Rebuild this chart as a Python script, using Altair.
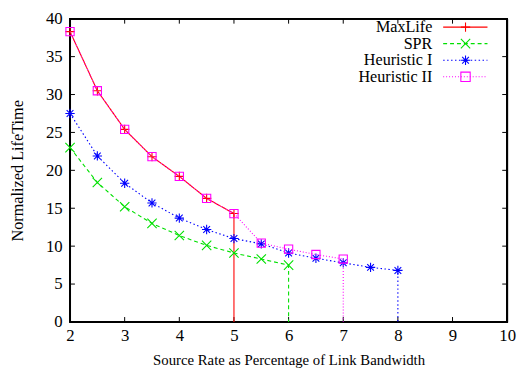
import altair as alt
import pandas as pd

# ---- data ----
series_names = ["MaxLife", "SPR", "Heuristic I", "Heuristic II"]
x_maxlife = [2, 2.5, 3, 3.5, 4, 4.5, 5]
y_maxlife = [38.3, 30.5, 25.4, 21.8, 19.2, 16.3, 14.3]
x_spr = [2, 2.5, 3, 3.5, 4, 4.5, 5, 5.5, 6]
y_spr = [23.0, 18.4, 15.2, 13.0, 11.4, 10.1, 9.1, 8.3, 7.5]
x_h1 = [2, 2.5, 3, 3.5, 4, 4.5, 5, 5.5, 6, 6.5, 7, 7.5, 8]
y_h1 = [27.5, 21.9, 18.3, 15.7, 13.7, 12.2, 11.0, 10.3, 9.1, 8.4, 7.8, 7.2, 6.8]
x_h2 = [2, 2.5, 3, 3.5, 4, 4.5, 5, 5.5, 6, 6.5, 7]
y_h2 = [38.3, 30.5, 25.4, 21.8, 19.2, 16.3, 14.3, 10.4, 9.6, 8.9, 8.3]
x_ticks = [2, 3, 4, 5, 6, 7, 8, 9, 10]
y_ticks = [0, 5, 10, 15, 20, 25, 30, 35, 40]

colors = ["#ff0000", "#00e000", "#0000ff", "#ff00ff"]
dashes = [[1, 0], [4, 3], [1.5, 2.5], [1, 2]]
shapes = [
    "M-1,0L1,0M0,-1L0,1",
    "M-1,-1L1,1M-1,1L1,-1",
    "M-1,0L1,0M0,-1L0,1M-0.72,-0.72L0.72,0.72M-0.72,0.72L0.72,-0.72",
    "M-1,-1L1,-1L1,1L-1,1Z",
]

W, H = 444, 308
FONT = "Liberation Serif"

xs = [x_maxlife, x_spr, x_h1, x_h2]
ys = [y_maxlife, y_spr, y_h1, y_h2]

xscale = alt.Scale(domain=[2, 10], nice=False, zero=False)
yscale = alt.Scale(domain=[0, 40], nice=False)
xaxis = alt.Axis(values=x_ticks, title="Source Rate as Percentage of Link Bandwidth",
                 titlePadding=9, labelPadding=6, titleFontSize=15, labelFlush=False,
                 labelOverlap=False, labelFont=FONT, titleFont=FONT, labelFontSize=17)
yaxis = alt.Axis(values=y_ticks, title="Normalized LifeTime",
                 titlePadding=20, labelPadding=8, titleFontSize=16.5, labelFlush=False,
                 labelOverlap=False, labelFont=FONT, titleFont=FONT, labelFontSize=17)

layers = []
for i, name in enumerate(series_names):
    rows = [{"series": name, "x": x, "y": y, "o": k} for k, (x, y) in enumerate(zip(xs[i], ys[i]))]
    pts = pd.DataFrame(rows)
    line_rows = rows + [{"series": name, "x": xs[i][-1], "y": 0, "o": len(rows)}]
    ln = pd.DataFrame(line_rows)
    layers.append(
        alt.Chart(ln).mark_line(color=colors[i], strokeDash=dashes[i], strokeWidth=1.1, clip=True).encode(
            x=alt.X("x:Q", scale=xscale, axis=xaxis),
            y=alt.Y("y:Q", scale=yscale, axis=yaxis if i == 0 else None),
            order="o:Q",
        )
    )
    layers.append(
        alt.Chart(pts).mark_point(shape=shapes[i], color=colors[i], filled=False, strokeWidth=1.1,
                                  size=90 if i != 3 else 70, opacity=1).encode(
            x=alt.X("x:Q", scale=xscale, axis=xaxis),
            y=alt.Y("y:Q", scale=yscale, axis=None),
        )
    )

xt = pd.DataFrame({"t": x_ticks})
yt = pd.DataFrame({"t": y_ticks})
tick_layers = [
    alt.Chart(xt).mark_rule(color="black", strokeWidth=1).encode(
        x=alt.X("t:Q", scale=xscale, axis=xaxis), y=alt.value(H), y2=alt.value(H - 5)),
    alt.Chart(xt).mark_rule(color="black", strokeWidth=1).encode(
        x=alt.X("t:Q", scale=xscale, axis=xaxis), y=alt.value(0), y2=alt.value(5)),
    alt.Chart(yt).mark_rule(color="black", strokeWidth=1).encode(
        y=alt.Y("t:Q", scale=yscale, axis=None), x=alt.value(0), x2=alt.value(5)),
    alt.Chart(yt).mark_rule(color="black", strokeWidth=1).encode(
        y=alt.Y("t:Q", scale=yscale, axis=None), x=alt.value(W), x2=alt.value(W - 5)),
]

frame = alt.Chart(xt).mark_rect(fill=None, stroke="black", strokeWidth=1.2).encode(
    x=alt.value(0), x2=alt.value(W), y=alt.value(0), y2=alt.value(H))

# key drawn inside the plot: label on the left, line sample with marker on the right
leg = pd.DataFrame({"series": series_names, "row": [0, 1, 2, 3]})
lyscale = alt.Scale(domain=[0, 3], range=[8.5, 59])
leg_text = alt.Chart(leg).mark_text(align="right", baseline="middle", font=FONT, fontSize=16.4, color="black").encode(
    x=alt.value(368), y=alt.Y("row:Q", scale=lyscale, axis=None), text="series:N")
leg_line = alt.Chart(leg).mark_rule(strokeWidth=1.1).encode(
    x=alt.value(379), x2=alt.value(424), y=alt.Y("row:Q", scale=lyscale, axis=None),
    color=alt.Color("series:N", scale=alt.Scale(domain=series_names, range=colors), legend=None),
    strokeDash=alt.StrokeDash("series:N", scale=alt.Scale(domain=series_names, range=dashes), legend=None),
)
leg_pt = alt.Chart(leg).mark_point(filled=False, strokeWidth=1.1, size=90, opacity=1).encode(
    x=alt.value(401.7), y=alt.Y("row:Q", scale=lyscale, axis=None),
    color=alt.Color("series:N", scale=alt.Scale(domain=series_names, range=colors), legend=None),
    shape=alt.Shape("series:N", scale=alt.Scale(domain=series_names, range=shapes), legend=None),
)

chart = alt.layer(frame, *tick_layers, *layers, leg_text, leg_line, leg_pt).resolve_scale(
    y="independent"
).properties(
    width=W, height=H,
    autosize=alt.AutoSizeParams(type="none"),
    padding={"left": 63, "top": 8, "right": 11, "bottom": 52},
).configure_view(stroke="black", strokeWidth=1).configure_axis(
    labelFont=FONT, titleFont=FONT, labelFontSize=17, labelColor="black", titleColor="black",
    titleFontWeight="normal", tickSize=0, domain=False, grid=False,
)

chart.save("out.html", embed_options={"renderer": "svg", "actions": False})
